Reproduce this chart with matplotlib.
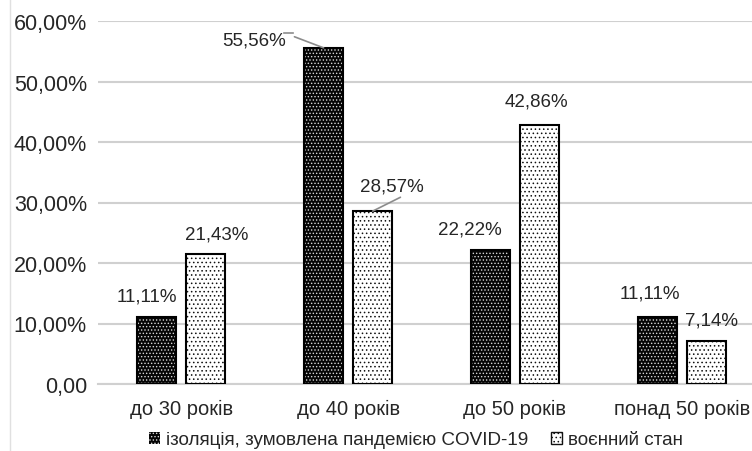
import numpy as np
import matplotlib.pyplot as plt
from matplotlib.patches import Patch
from matplotlib.lines import Line2D

plt.rcParams['font.family'] = ['Liberation Sans', 'DejaVu Sans']
plt.rcParams['hatch.linewidth'] = 0.6

categories = ['до 30 років', 'до 40 років', 'до 50 років', 'понад 50 років']
covid = [11.11, 55.56, 22.22, 11.11]
war = [21.43, 28.57, 42.86, 7.14]
series_names = ['ізоляція, зумовлена пандемією COVID-19', 'воєнний стан']
yticks = [0, 10, 20, 30, 40, 50, 60]
ytick_labels = ['0,00', '10,00%', '20,00%', '30,00%', '40,00%', '50,00%', '60,00%']

# label offsets (points) relative to bar top centre
covid_off = [(-7, 15), (-50, 6), (-15, 15), (-5, 17)]
war_off = [(8, 15), (14, 18), (-2, 17), (4, 15)]

fig = plt.figure(figsize=(7.52, 4.52), dpi=100)
ax = fig.add_axes([98/752, 67/452, 667/752, 363/452])

x = np.arange(len(categories))
w = 0.234
d = 0.147

def draw_bars(xpos, vals, face, hatch_col, hatch):
    ax.bar(xpos, vals, w, color=face, edgecolor=hatch_col, hatch=hatch, linewidth=0, zorder=2)
    ax.bar(xpos, vals, w, fill=False, edgecolor='black', linewidth=1.5, zorder=3)

draw_bars(x - d, covid, '#050505', '#d8d8d8', '.....')
draw_bars(x + d, war, 'white', '#111111', '....')

def fmt(v):
    return ('%.2f%%' % v).replace('.', ',')

for i in range(len(categories)):
    ax.annotate(fmt(covid[i]), (x[i] - d, covid[i]), xytext=covid_off[i], textcoords='offset points',
                ha='center', va='center', fontsize=13.5, color='#262626')
    ax.annotate(fmt(war[i]), (x[i] + d, war[i]), xytext=war_off[i], textcoords='offset points',
                ha='center', va='center', fontsize=13.5, color='#262626')

# leader lines
ax.annotate('', (x[1] - d, covid[1]), xytext=(-21, 8), textcoords='offset points',
            arrowprops=dict(arrowstyle='-', color='#8c8c8c', lw=1.2, shrinkA=0, shrinkB=0))
fig.add_artist(Line2D([284/752, 293/752], [1 - 34/452, 1 - 34/452], color='#8c8c8c', lw=1.2))
ax.annotate('', (x[1] + d, war[1]), xytext=(20, 10), textcoords='offset points',
            arrowprops=dict(arrowstyle='-', color='#8c8c8c', lw=1.2, shrinkA=0, shrinkB=0))

ax.set_xlim(-0.5, 3.5)
ax.set_ylim(0, 60)
ax.set_yticks(yticks)
ax.set_yticklabels(ytick_labels, fontsize=15.5, color='#262626')
ax.set_xticks(x)
ax.set_xticklabels(categories, fontsize=14.5, color='#262626')
ax.tick_params(axis='y', length=0, pad=8)
ax.tick_params(axis='x', length=0, pad=11)
ax.grid(axis='y', color='#d0d0d0', lw=1.5, zorder=0)
ax.set_axisbelow(True)
for s in ['top', 'right', 'left']:
    ax.spines[s].set_visible(False)
ax.spines['bottom'].set_color('#d0d0d0')
ax.spines['bottom'].set_linewidth(1.5)

# chart area border on the left
fig.add_artist(Line2D([10/752, 10/752], [0, 1], color='#e0e0e0', lw=1))

handles = [Patch(facecolor='#050505', edgecolor='#d8d8d8', hatch='.....', lw=0),
           Patch(facecolor='white', edgecolor='#111111', hatch='....', lw=1)]
fig.legend(handles, series_names, loc='center', bbox_to_anchor=(416/752, 1 - 441/452), ncol=2,
           frameon=False, fontsize=13.6, handlelength=0.6, handleheight=0.6, handletextpad=0.3,
           columnspacing=1.2, labelcolor='#262626')

fig.savefig('out.png', dpi=100)
